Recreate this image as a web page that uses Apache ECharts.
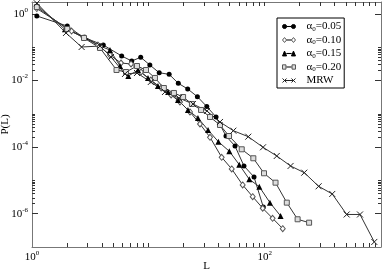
<!DOCTYPE html>
<html><head><meta charset="utf-8">
<script src="https://cdn.jsdelivr.net/npm/echarts@6/dist/echarts.min.js"></script>
<style>html,body{margin:0;padding:0;background:#fff}#c{width:382px;height:273px}</style>
</head><body><div id="c"></div>
<script>
// ---- data ----
const L_a005 = [1.10, 2.01, 2.76, 4.10, 5.90, 7.20, 8.60, 10.3, 12.4, 15.1, 18.1, 21.8, 26.4, 31.8, 38.2, 46.5, 55.6, 66.4, 81.0, 97.3];
const P_a005 = [0.871, 0.436, 0.200, 0.117, 0.0548, 0.0387, 0.0501, 0.0294, 0.0172, 0.0154, 0.00828, 0.00559, 0.00328, 0.00166, 0.000805, 0.000216, 0.000108, 2.72e-5, 1.27e-5, 1.59e-6];

const L_a010 = [1.10, 2.19, 3.69, 4.68, 5.82, 7.10, 8.65, 10.5, 12.9, 15.7, 18.7, 22.8, 27.8, 33.9, 42.7, 52.1, 64.7, 78.9, 96.2, 117, 143];
const P_a010 = [1.46, 0.308, 0.117, 0.0587, 0.0337, 0.0315, 0.0181, 0.0104, 0.00598, 0.00369, 0.00227, 0.00114, 0.000496, 0.000198, 4.96e-5, 2.21e-5, 7.30e-6, 3.25e-6, 1.46e-6, 7.29e-7, 3.55e-7];

const L_a015 = [1.10, 1.92, 2.85, 3.84, 4.68, 5.71, 6.73, 8.15, 9.94, 12.1, 14.8, 18.0, 21.9, 26.7, 32.6, 40.0, 49.7, 60.5, 73.8, 89.9, 111, 137];
const P_a015 = [1.86, 0.347, 0.204, 0.109, 0.0829, 0.0274, 0.0137, 0.0208, 0.0120, 0.00687, 0.00454, 0.00261, 0.00131, 0.000752, 0.000328, 0.000146, 7.51e-5, 2.97e-5, 1.08e-5, 6.49e-6, 2.15e-6, 8.55e-7];

const L_a020 = [1.10, 2.01, 2.80, 3.84, 5.33, 6.43, 7.99, 9.55, 11.4, 13.6, 16.6, 19.9, 23.7, 28.4, 33.9, 41.3, 49.4, 63.5, 79.9, 98.7, 124, 155, 192, 241];
const P_a020 = [1.62, 0.354, 0.190, 0.0953, 0.0208, 0.0181, 0.0274, 0.0208, 0.0120, 0.00598, 0.00424, 0.00321, 0.00198, 0.00131, 0.000805, 0.000463, 0.000216, 8.62e-5, 4.63e-5, 1.64e-5, 8.56e-6, 2.15e-6, 6.81e-7, 5.38e-7];

const L_mrw = [1.10, 1.96, 2.67, 3.84, 4.78, 6.30, 7.99, 10.5, 13.9, 18.3, 24.2, 31.9, 41.3, 53.8, 72.3, 96.8, 127, 167, 219, 291, 381, 507, 660, 876];
const P_mrw = [2.10, 0.269, 0.102, 0.109, 0.0511, 0.0158, 0.0169, 0.00907, 0.00454, 0.00300, 0.00198, 0.00122, 0.000570, 0.000312, 0.000206, 9.9e-5, 5.43e-5, 2.72e-5, 1.71e-5, 6.67e-6, 3.92e-6, 9.49e-7, 9.49e-7, 1.42e-7];

const seriesNames = ['α0=0.05', 'α0=0.10', 'α0=0.15', 'α0=0.20', 'MRW'];

// ---- axis ticks / labels ----
const xLabelValues = [1, 100];
const xTickValues = [2,3,4,5,6,7,8,9,10,20,30,40,50,60,70,80,90,100,200,300,400,500,600,700,800,900];
const yMajorValues = [1e-6, 1e-4, 1e-2, 1];
const yMinorValues = [1e-1,9e-2,8e-2,7e-2,6e-2,5e-2,4e-2,3e-2,2e-2,
                      1e-3,9e-4,8e-4,7e-4,6e-4,5e-4,4e-4,3e-4,2e-4,
                      1e-5,9e-6,8e-6,7e-6,6e-6,5e-6,4e-6,3e-6,2e-6];

const FONT = 'Liberation Serif';
const AX = '#777';
const TK = '#333';

function pair(xs, ys) { return xs.map((x, i) => [x, ys[i]]); }
function powLabel(v) {
  const e = Math.round(Math.log10(v));
  return '{b|10}{p|' + e + '}';
}
const labelRich = {
  b: { fontFamily: FONT, fontSize: 11, color: '#000', lineHeight: 15 },
  p: { fontFamily: FONT, fontSize: 7, color: '#000', lineHeight: 8, verticalAlign: 'top' }
};

const xRange = { type: 'log', logBase: 10, min: 1, max: 1000 };
const yRange = { type: 'log', logBase: 10, min: 1e-7, max: 2.294 };

const xAxes = [
  Object.assign({}, xRange, {
    position: 'bottom', gridIndex: 0,
    name: 'L', nameLocation: 'middle', nameGap: 14, nameMoveOverlap: false,
    nameTextStyle: { fontFamily: FONT, fontSize: 11, color: '#000' },
    axisLine: { show: true, lineStyle: { color: AX, width: 1 } },
    axisTick: { show: true, inside: true, length: 4, customValues: xTickValues, lineStyle: { color: TK } },
    axisLabel: { show: true, customValues: xLabelValues, formatter: powLabel, rich: labelRich, margin: 3 },
    splitLine: { show: false }, minorTick: { show: false }
  }),
  Object.assign({}, xRange, {
    position: 'top', gridIndex: 0,
    axisLine: { show: true, lineStyle: { color: AX, width: 1 } },
    axisTick: { show: true, inside: true, length: 4, customValues: xTickValues, lineStyle: { color: TK } },
    axisLabel: { show: false }, splitLine: { show: false }
  })
];

const yAxes = [
  Object.assign({}, yRange, {
    position: 'left', gridIndex: 0,
    name: 'P(L)', nameLocation: 'middle', nameGap: 21, nameMoveOverlap: false,
    nameTextStyle: { fontFamily: FONT, fontSize: 11, color: '#000' },
    axisLine: { show: true, lineStyle: { color: AX, width: 1 } },
    axisTick: { show: true, inside: true, length: 6, customValues: yMajorValues, lineStyle: { color: TK } },
    axisLabel: { show: true, customValues: yMajorValues, formatter: powLabel, rich: labelRich, margin: 4 },
    splitLine: { show: false }
  }),
  Object.assign({}, yRange, {
    position: 'right', gridIndex: 0,
    axisLine: { show: true, lineStyle: { color: AX, width: 1 } },
    axisTick: { show: true, inside: true, length: 6, customValues: yMajorValues, lineStyle: { color: TK } },
    axisLabel: { show: false }, splitLine: { show: false }
  }),
  Object.assign({}, yRange, {
    position: 'left', gridIndex: 0,
    axisLine: { show: false },
    axisTick: { show: true, inside: true, length: 3, customValues: yMinorValues, lineStyle: { color: TK } },
    axisLabel: { show: false }, splitLine: { show: false }
  }),
  Object.assign({}, yRange, {
    position: 'right', gridIndex: 0,
    axisLine: { show: false },
    axisTick: { show: true, inside: true, length: 3, customValues: yMinorValues, lineStyle: { color: TK } },
    axisLabel: { show: false }, splitLine: { show: false }
  })
];

const CROSS = 'path://M0,0L10,10M10,0L0,10';
function line(name, xs, ys, symbol, size, itemStyle) {
  return {
    name: name, type: 'line', xAxisIndex: 0, yAxisIndex: 0,
    data: pair(xs, ys), symbol: symbol, symbolSize: size, showAllSymbol: true,
    lineStyle: { color: '#333', width: 1 }, itemStyle: itemStyle,
    emphasis: { disabled: true }, animation: false, z: 3
  };
}

const series = [
  line(seriesNames[0], L_a005, P_a005, 'circle', 5, { color: '#000', borderColor: '#000', borderWidth: 0 }),
  line(seriesNames[1], L_a010, P_a010, 'diamond', [5, 6], { color: '#fff', borderColor: '#555', borderWidth: 1 }),
  line(seriesNames[2], L_a015, P_a015, 'triangle', 6, { color: '#000', borderColor: '#000', borderWidth: 0 }),
  line(seriesNames[3], L_a020, P_a020, 'rect', 5, { color: '#ddd', borderColor: '#555', borderWidth: 1 }),
  line(seriesNames[4], L_mrw, P_mrw, CROSS, 6, { color: 'none', borderColor: '#222', borderWidth: 1 })
];

const LG_LINE = 'M5,2.95H11V3.05H5Z';
const legendIcons = [
  'path://M0,3a2.5,2.5 0 1,0 5,0a2.5,2.5 0 1,0 -5,0ZM11,3a2.5,2.5 0 1,0 5,0a2.5,2.5 0 1,0 -5,0Z' + LG_LINE,
  'path://M0,3L2.5,0L5,3L2.5,6ZM11,3L13.5,0L16,3L13.5,6Z' + LG_LINE,
  'path://M0,6L2.5,0L5,6ZM11,6L13.5,0L16,6Z' + LG_LINE,
  'path://M0.5,0.5H4.5V5.5H0.5ZM11.5,0.5H15.5V5.5H11.5Z' + LG_LINE,
  'path://M0,0.5L5,5.5M5,0.5L0,5.5M11,0.5L16,5.5M16,0.5L11,5.5M2.5,3H13.5'
];
const legendStyles = [
  { color: '#000', borderColor: '#000', borderWidth: 1 },
  { color: '#fff', borderColor: '#555', borderWidth: 1 },
  { color: '#000', borderColor: '#000', borderWidth: 1 },
  { color: '#ddd', borderColor: '#555', borderWidth: 1 },
  { color: 'none', borderColor: '#222', borderWidth: 1 }
];

const chart = echarts.init(document.getElementById('c'), null, { renderer: 'canvas' });
chart.setOption({
  animation: false,
  backgroundColor: '#fff',
  grid: { left: 32, right: 1, top: 2, bottom: 26, containLabel: false, outerBoundsMode: 'none' },
  xAxis: xAxes,
  yAxis: yAxes,
  legend: {
    orient: 'vertical', left: 277, top: 18,
    padding: [3, 3, 2, 3], itemGap: 2, itemWidth: 13, itemHeight: 5,
    borderColor: '#000', borderWidth: 1, backgroundColor: '#fff',
    selectedMode: false,
    data: seriesNames.map((n, i) => ({ name: n, icon: legendIcons[i], itemStyle: legendStyles[i] })),
    formatter: function (name) {
      if (name.indexOf('α0') === 0) return '{t|α}{s|0}{t|' + name.slice(2) + '}';
      return '{t|' + name + '}';
    },
    textStyle: {
      padding: [0, 0, 0, 6],
      rich: {
        t: { fontFamily: FONT, fontSize: 11, color: '#000', lineHeight: 12 },
        s: { fontFamily: FONT, fontSize: 7, color: '#000', lineHeight: 7, verticalAlign: 'bottom' }
      }
    }
  },
  series: series
});
</script></body></html>
